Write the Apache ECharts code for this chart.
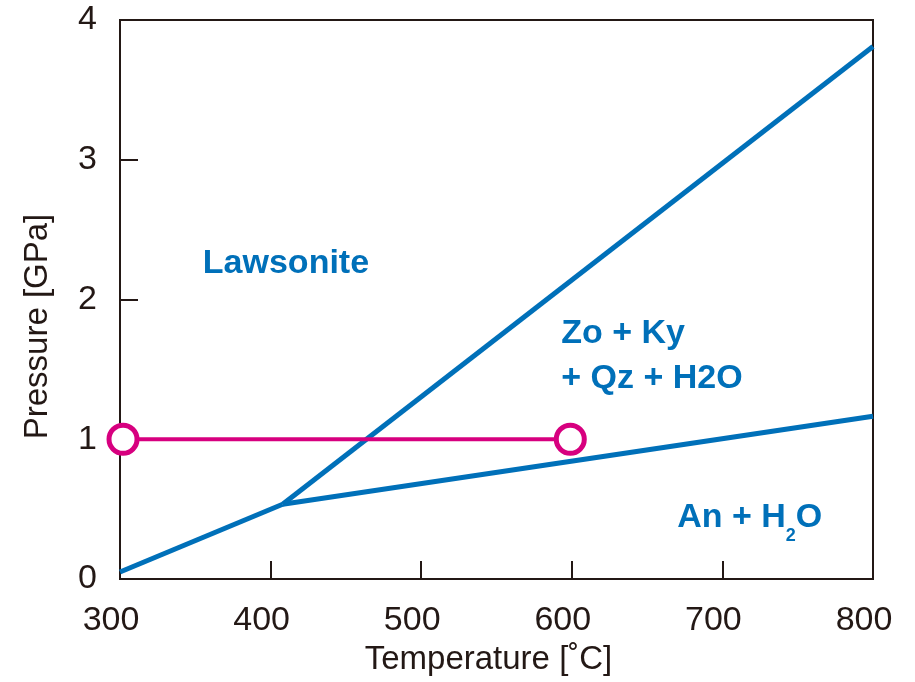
<!DOCTYPE html>
<html>
<head>
<meta charset="utf-8">
<script src="https://cdn.jsdelivr.net/npm/echarts@6/dist/echarts.min.js"></script>
<style>
  html, body { margin: 0; padding: 0; background: #ffffff; }
  #chart { width: 915px; height: 682px; }
</style>
</head>
<body>
<div id="chart"></div>
<script>
// Phase boundaries in the CaAl2Si2O8–H2O system (temperature °C, pressure GPa)
const lawsoniteOut = [[300, 0.05], [408, 0.535]];          // Lawsonite = An + H2O
const lawsoniteZo = [[408, 0.535], [800, 3.81]];           // Lawsonite = Zo + Ky + Qz + H2O
const zoAn = [[408, 0.535], [800, 1.165]];                 // Zo + Ky + Qz + H2O = An + H2O
const isobaricPath = [[302, 1.0], [599, 1.0]];             // 1 GPa heating path

// Axis ticks
const xTicks = [300, 400, 500, 600, 700, 800];
const yTicks = [0, 1, 2, 3, 4];

// Field names and where they sit (T, P of the left edge / vertical middle)
const fieldNames = ['Lawsonite', 'Zo + Ky\n+ Qz + H2O', 'An + H{sub|2}O'];
const fieldAnchors = [[355, 2.255], [593, 1.593], [670, 0.439]];

const BLUE = '#0070b9';
const PINK = '#d7007f';
const INK = '#231815';
const FONT = '"Liberation Sans", Arial, Helvetica, sans-serif';

const chart = echarts.init(document.getElementById('chart'), null, { renderer: 'canvas' });

const boundaryStyle = { color: BLUE, width: 5, cap: 'butt', join: 'miter' };

chart.setOption({
  animation: false,
  backgroundColor: '#ffffff',
  grid: {
    left: 120, right: 42, top: 20, bottom: 103,
    show: true, borderColor: INK, borderWidth: 2, backgroundColor: 'transparent'
  },
  xAxis: {
    type: 'value',
    min: xTicks[0], max: xTicks[xTicks.length - 1], interval: 100,
    name: 'Temperature [˚C]',
    nameLocation: 'middle', nameGap: 64,
    nameTextStyle: { fontFamily: FONT, fontSize: 33, color: INK, padding: [0, 16, 0, 0] },
    axisLine: { show: true, lineStyle: { color: INK, width: 2 } },
    axisTick: { show: true, inside: true, length: 18, lineStyle: { color: INK, width: 2 } },
    axisLabel: {
      fontFamily: FONT, fontSize: 34, color: INK, margin: 25,
      padding: [0, 18, 0, 0]
    },
    splitLine: { show: false }
  },
  yAxis: {
    type: 'value',
    min: yTicks[0], max: yTicks[yTicks.length - 1], interval: 1,
    name: 'Pressure [GPa]',
    nameLocation: 'middle', nameGap: 66,
    nameTextStyle: { fontFamily: FONT, fontSize: 33, color: INK, padding: [0, 54, 0, 0] },
    axisLine: { show: true, lineStyle: { color: INK, width: 2 } },
    axisTick: { show: true, inside: true, length: 18, lineStyle: { color: INK, width: 2 } },
    axisLabel: { fontFamily: FONT, fontSize: 34, color: INK, margin: 23 },
    splitLine: { show: false }
  },
  series: [
    { type: 'line', data: lawsoniteOut, symbol: 'none', lineStyle: boundaryStyle, z: 3 },
    { type: 'line', data: lawsoniteZo, symbol: 'none', lineStyle: boundaryStyle, z: 3 },
    { type: 'line', data: zoAn, symbol: 'none', lineStyle: boundaryStyle, z: 3 },
    {
      type: 'line', data: isobaricPath,
      symbol: 'circle', symbolSize: 28, showSymbol: true,
      lineStyle: { color: PINK, width: 4 },
      itemStyle: { color: '#ffffff', borderColor: PINK, borderWidth: 5 },
      z: 4
    },
    {
      type: 'scatter',
      data: fieldAnchors.map((p, i) => ({
        value: p,
        name: fieldNames[i],
        // taller line box drops the subscript toward the baseline
        label: i === 2 ? { lineHeight: 54 } : {}
      })),
      symbolSize: 0,
      silent: true,
      itemStyle: { opacity: 1 },
      label: {
        show: true,
        position: 'inside',
        align: 'left',
        verticalAlign: 'middle',
        formatter: p => p.name,
        fontFamily: FONT, fontSize: 34, fontWeight: 'bold', color: BLUE,
        opacity: 1,
        lineHeight: 45,
        rich: {
          sub: {
            fontFamily: FONT, fontSize: 18, fontWeight: 'bold', color: BLUE,
            verticalAlign: 'bottom', lineHeight: 2
          }
        }
      },
      z: 5
    }
  ]
});
</script>
</body>
</html>
